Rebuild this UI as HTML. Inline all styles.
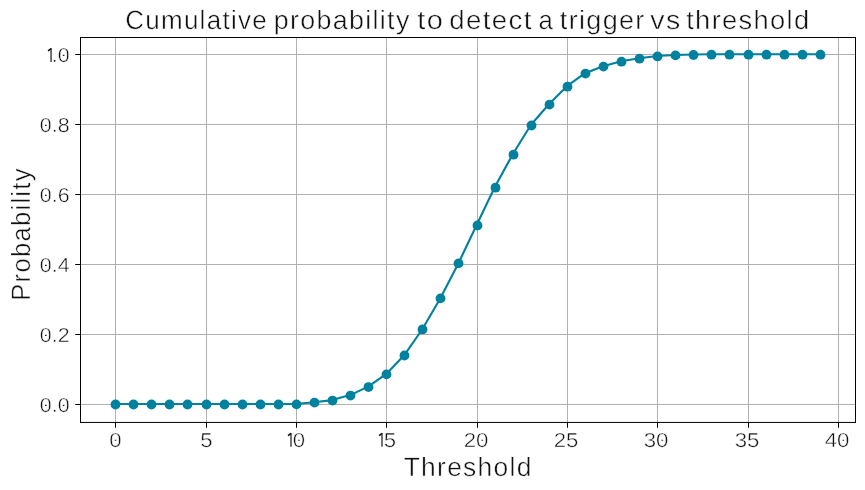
<!DOCTYPE html>
<html><head><meta charset="utf-8"><title>Cumulative probability</title>
<style>html,body{margin:0;padding:0;background:#fff}body{width:865px;height:490px;overflow:hidden}svg{display:block;font-family:'Liberation Sans',sans-serif}svg{will-change:transform}g.t{filter:grayscale(1)}text{text-rendering:geometricPrecision}</style></head>
<body>
<svg width="865" height="490" viewBox="0 0 865 490">
<rect width="865" height="490" fill="#fff"/>
<path d="M115.5 37.5V422.45M206.5 37.5V422.45M296.5 37.5V422.45M386.5 37.5V422.45M477.5 37.5V422.45M567.5 37.5V422.45M657.5 37.5V422.45M748.5 37.5V422.45M838.5 37.5V422.45M80.5 404.5H855.5M80.5 334.5H855.5M80.5 264.5H855.5M80.5 194.5H855.5M80.5 124.5H855.5M80.5 54.5H855.5" stroke="#b0b0b0" stroke-width="1" fill="none"/>
<path d="M115.5 422.45v5.3M206.5 422.45v5.3M296.5 422.45v5.3M386.5 422.45v5.3M477.5 422.45v5.3M567.5 422.45v5.3M657.5 422.45v5.3M748.5 422.45v5.3M838.5 422.45v5.3M80.5 404.5h-5.3M80.5 334.5h-5.3M80.5 264.5h-5.3M80.5 194.5h-5.3M80.5 124.5h-5.3M80.5 54.5h-5.3" stroke="#000" stroke-width="1" fill="none"/>
<polyline points="115.33,404.05 133.40,404.05 151.46,404.05 169.53,404.05 187.59,404.05 205.66,404.05 223.72,404.05 241.79,404.05 259.85,404.05 277.92,404.05 295.98,403.94 314.05,402.19 332.11,400.10 350.18,395.09 368.24,386.62 386.31,373.95 404.37,355.05 422.44,328.98 440.50,297.93 458.56,262.97 476.63,225.06 494.69,187.26 512.76,154.26 530.83,125.03 548.89,104.20 566.96,86.22 585.02,73.16 603.09,66.16 621.15,61.26 639.22,58.22 657.28,55.97 675.35,54.96 693.41,54.57 711.48,54.22 729.54,54.22 747.61,54.22 765.67,54.22 783.74,54.22 801.80,54.22 819.87,54.22" fill="none" stroke="#00819d" stroke-width="2.1" stroke-linejoin="round"/>
<g fill="#00819d">
<circle cx="115.5" cy="404.50" r="4.9"/>
<circle cx="133.5" cy="404.50" r="4.9"/>
<circle cx="151.5" cy="404.50" r="4.9"/>
<circle cx="169.5" cy="404.50" r="4.9"/>
<circle cx="187.5" cy="404.50" r="4.9"/>
<circle cx="206.5" cy="404.50" r="4.9"/>
<circle cx="224.5" cy="404.50" r="4.9"/>
<circle cx="242.5" cy="404.50" r="4.9"/>
<circle cx="260.5" cy="404.50" r="4.9"/>
<circle cx="278.5" cy="404.50" r="4.9"/>
<circle cx="296.5" cy="404.39" r="4.9"/>
<circle cx="314.5" cy="402.64" r="4.9"/>
<circle cx="332.5" cy="400.55" r="4.9"/>
<circle cx="350.5" cy="395.54" r="4.9"/>
<circle cx="368.5" cy="387.07" r="4.9"/>
<circle cx="386.5" cy="374.40" r="4.9"/>
<circle cx="404.5" cy="355.50" r="4.9"/>
<circle cx="422.5" cy="329.43" r="4.9"/>
<circle cx="440.5" cy="298.38" r="4.9"/>
<circle cx="458.5" cy="263.41" r="4.9"/>
<circle cx="477.5" cy="225.51" r="4.9"/>
<circle cx="495.5" cy="187.71" r="4.9"/>
<circle cx="513.5" cy="154.71" r="4.9"/>
<circle cx="531.5" cy="125.48" r="4.9"/>
<circle cx="549.5" cy="104.65" r="4.9"/>
<circle cx="567.5" cy="86.67" r="4.9"/>
<circle cx="585.5" cy="73.61" r="4.9"/>
<circle cx="603.5" cy="66.61" r="4.9"/>
<circle cx="621.5" cy="61.71" r="4.9"/>
<circle cx="639.5" cy="58.67" r="4.9"/>
<circle cx="657.5" cy="56.42" r="4.9"/>
<circle cx="675.5" cy="55.41" r="4.9"/>
<circle cx="693.5" cy="55.02" r="4.9"/>
<circle cx="711.5" cy="54.67" r="4.9"/>
<circle cx="729.5" cy="54.67" r="4.9"/>
<circle cx="748.5" cy="54.67" r="4.9"/>
<circle cx="766.5" cy="54.67" r="4.9"/>
<circle cx="784.5" cy="54.67" r="4.9"/>
<circle cx="802.5" cy="54.67" r="4.9"/>
<circle cx="820.5" cy="54.67" r="4.9"/>
</g>
<path d="M80.5 37.5H855.5M80.5 37.0V423.0M855.5 37.0V423.0" fill="none" stroke="#000" stroke-width="1"/>
<path d="M80.0 422.45H856.0" fill="none" stroke="#000" stroke-width="1"/>
<g class="t" fill="#111" stroke="#fff" stroke-width="0.45" letter-spacing="1.3">
<text x="125.15" y="28.7" font-size="26.4" textLength="142.87" lengthAdjust="spacingAndGlyphs">Cumulative</text><text x="273.74" y="28.7" font-size="26.4" textLength="136.89" lengthAdjust="spacingAndGlyphs">probability</text><text x="417.18" y="28.7" font-size="26.4" textLength="27.05" lengthAdjust="spacingAndGlyphs">to</text><text x="449.37" y="28.7" font-size="26.4" textLength="83.35" lengthAdjust="spacingAndGlyphs">detect</text><text x="538.47" y="28.7" font-size="26.4" textLength="15.62" lengthAdjust="spacingAndGlyphs">a</text><text x="559.84" y="28.7" font-size="26.4" textLength="85.87" lengthAdjust="spacingAndGlyphs">trigger</text><text x="650.24" y="28.7" font-size="26.4" textLength="31.36" lengthAdjust="spacingAndGlyphs">vs</text><text x="686.19" y="28.7" font-size="26.4" textLength="124.34" lengthAdjust="spacingAndGlyphs">threshold</text>
<text x="468.2" y="475.8" font-size="26.4" text-anchor="middle" textLength="129" lengthAdjust="spacingAndGlyphs">Threshold</text>
<text transform="translate(30 234) rotate(-90)" font-size="26.4" text-anchor="middle" textLength="133.5" lengthAdjust="spacingAndGlyphs">Probability</text>
</g><g class="t" fill="#111" stroke="#fff" stroke-width="0.45">
<text transform="translate(115.5 446.9) scale(1.1 1)" font-size="20.2" text-anchor="middle">0</text>
<text transform="translate(206.5 446.9) scale(1.1 1)" font-size="20.2" text-anchor="middle">5</text>
<text transform="translate(299.0 446.9) scale(1.1 1)" font-size="20.2" text-anchor="middle">0</text>
<text transform="translate(390.0 446.9) scale(1.1 1)" font-size="20.2" text-anchor="middle">5</text>
<text transform="translate(476.1 446.9) scale(1.1 1)" font-size="20.2" text-anchor="middle">20</text>
<text transform="translate(566.1 446.9) scale(1.1 1)" font-size="20.2" text-anchor="middle">25</text>
<text transform="translate(656.1 446.9) scale(1.1 1)" font-size="20.2" text-anchor="middle">30</text>
<text transform="translate(747.1 446.9) scale(1.1 1)" font-size="20.2" text-anchor="middle">35</text>
<text transform="translate(837.1 446.9) scale(1.1 1)" font-size="20.2" text-anchor="middle">40</text>
<text transform="translate(69.6 411.9) scale(1.06 1)" font-size="20.2" text-anchor="end">0.0</text>
<text transform="translate(69.6 341.9) scale(1.06 1)" font-size="20.2" text-anchor="end">0.2</text>
<text transform="translate(69.6 271.9) scale(1.06 1)" font-size="20.2" text-anchor="end">0.4</text>
<text transform="translate(69.6 201.9) scale(1.06 1)" font-size="20.2" text-anchor="end">0.6</text>
<text transform="translate(69.6 131.9) scale(1.06 1)" font-size="20.2" text-anchor="end">0.8</text>
<text transform="translate(69.6 61.9) scale(1.06 1)" font-size="20.2" text-anchor="end">.0</text>
</g>
<path d="M291.00 432.90V446.85M382.00 432.90V446.85M51.05 48.10V61.95" stroke="#111" stroke-width="1.15" fill="none"/>
<path d="M288.00 435.65L291.10 433.35M379.00 435.65L382.10 433.35M48.05 50.85L51.15 48.55" stroke="#111" stroke-width="1.5" fill="none"/>
<path d="M114.7 440.3h1.6M298.2 440.3h1.6M481.5 440.3h1.6M661.5 440.3h1.6M842.5 440.3h1.6M45.0 405.4h1.6M62.8 405.4h1.6M45.0 335.4h1.6M45.0 265.4h1.6M45.0 195.4h1.6M45.0 125.4h1.6M62.8 55.4h1.6" stroke="#222" stroke-width="1.1" fill="none"/>
</svg>
</body></html>
